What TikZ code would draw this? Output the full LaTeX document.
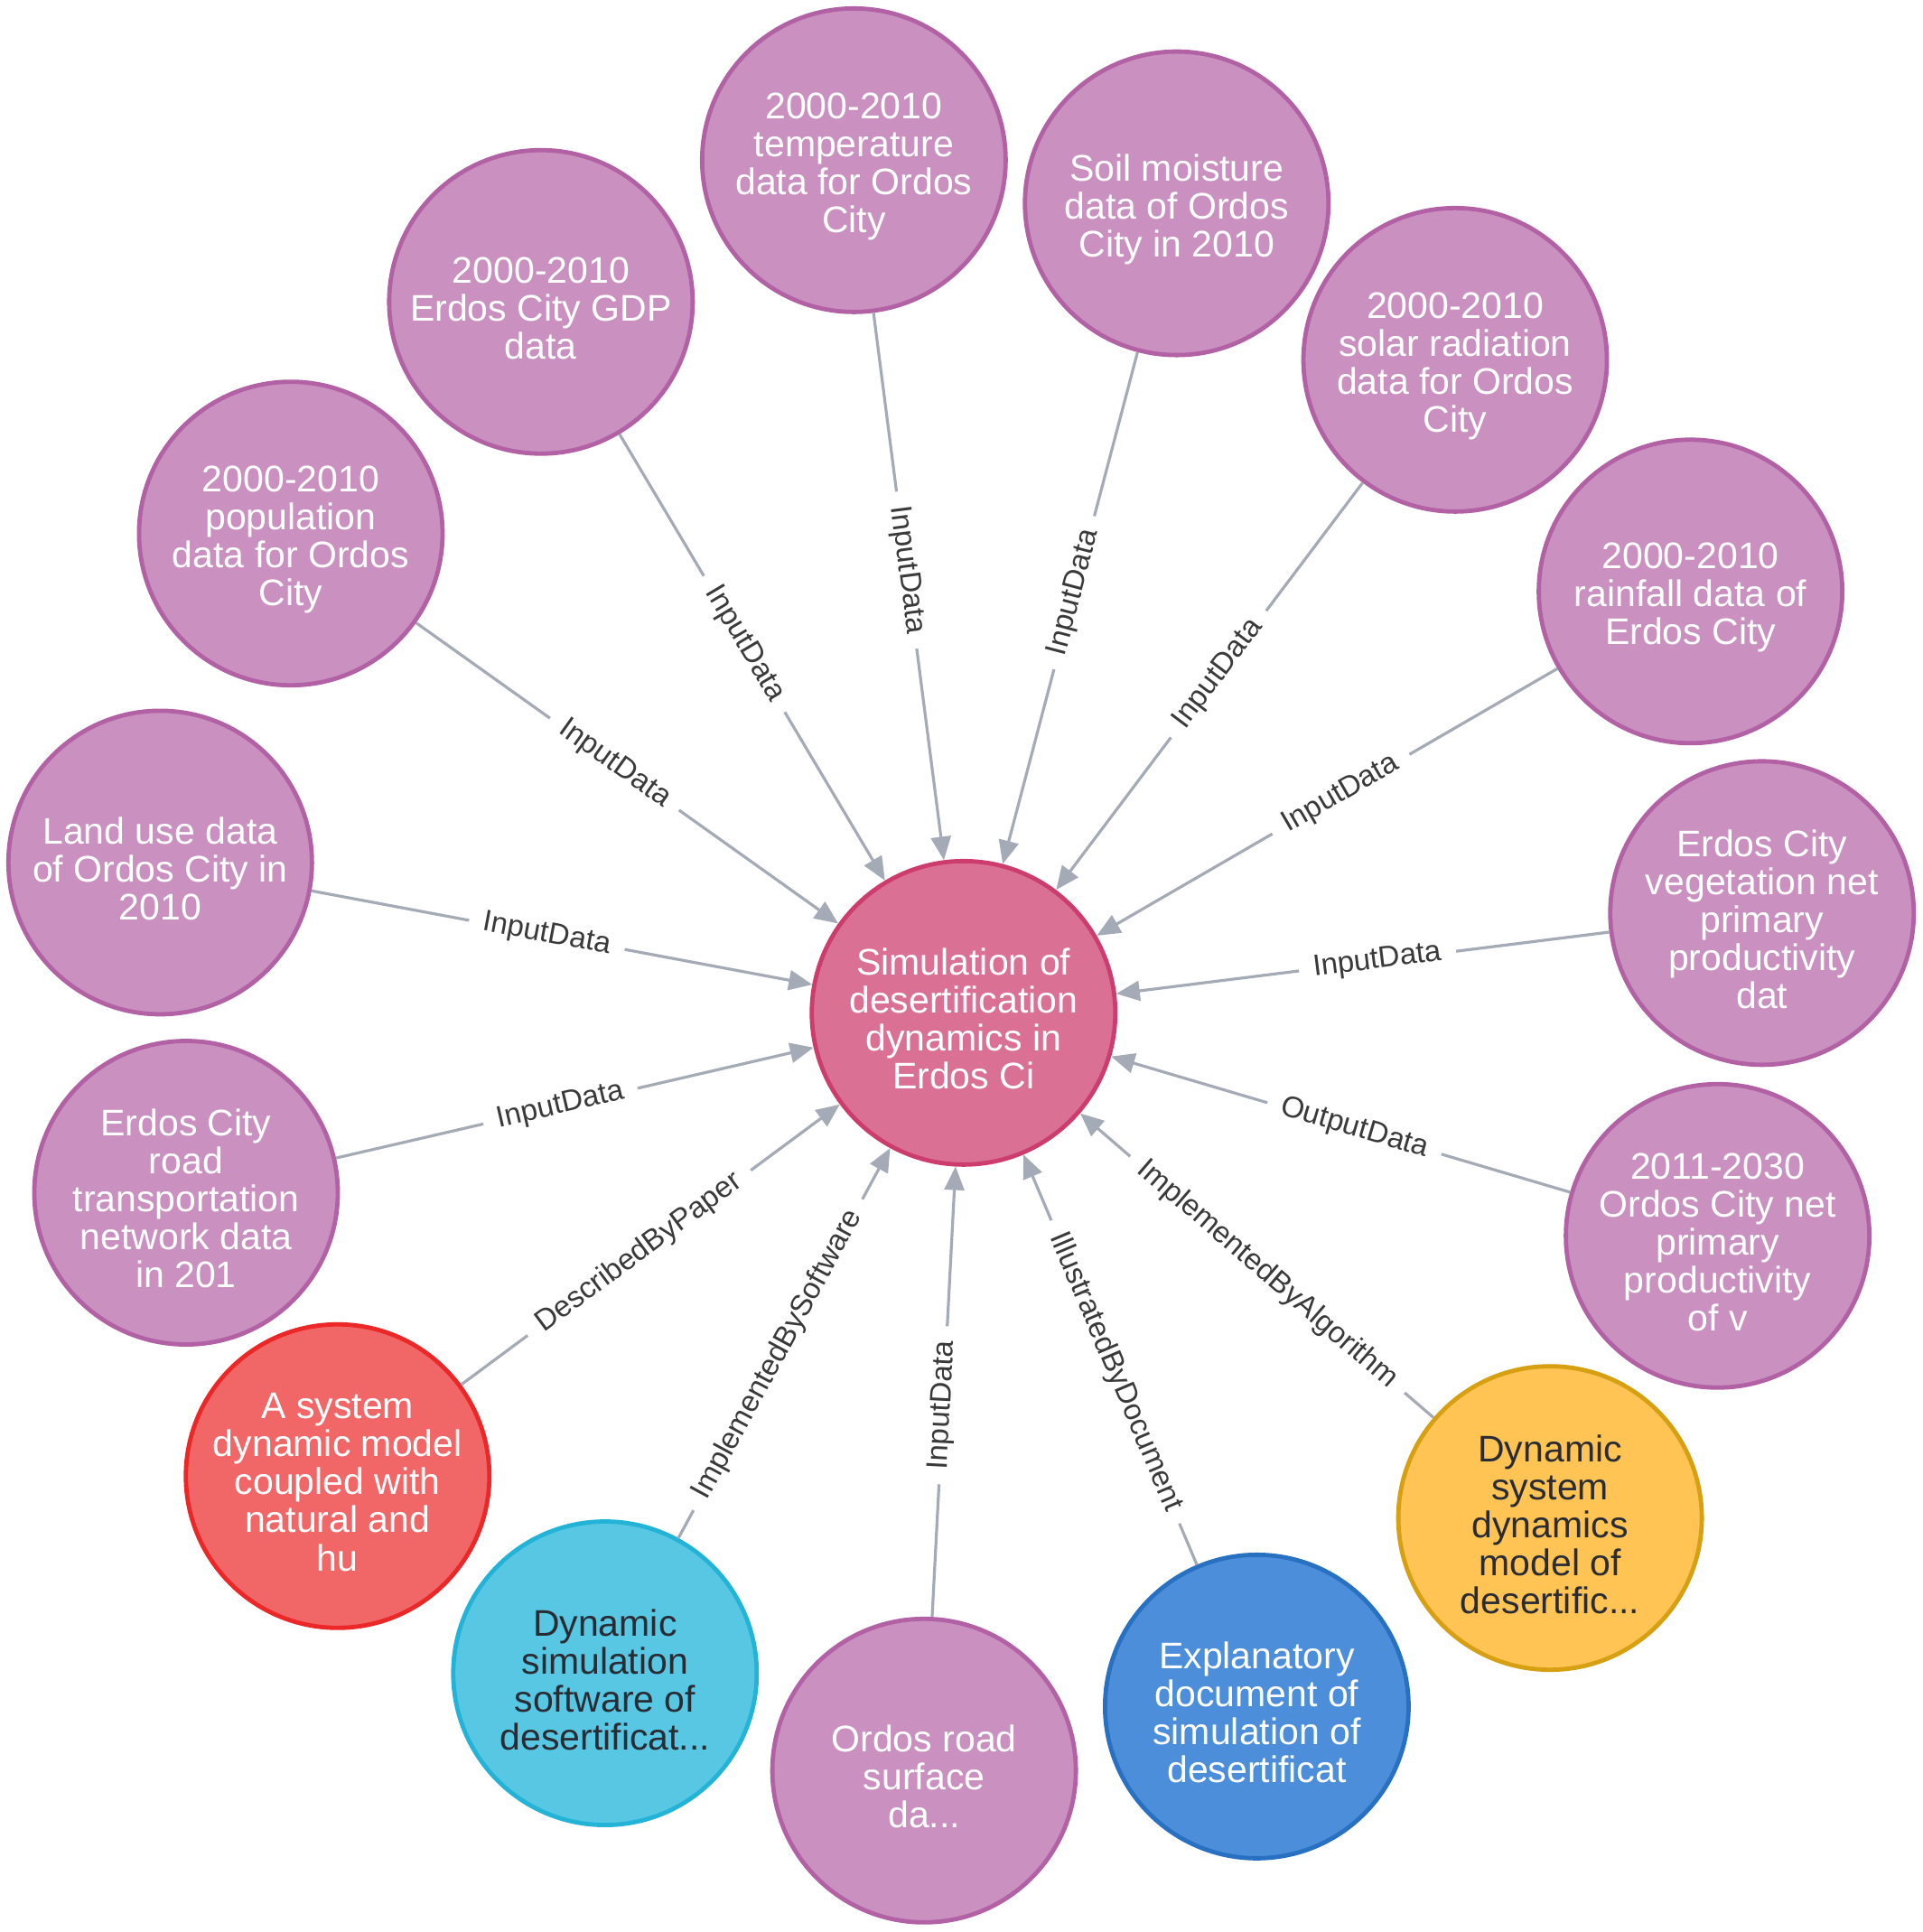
\documentclass[tikz,border=0pt]{standalone}
\usepackage{fontspec}
\setmainfont{Liberation Sans}
\usetikzlibrary{arrows.meta}
\definecolor{datafill}{HTML}{C990C0}
\definecolor{dataline}{HTML}{B261A5}
\definecolor{hubfill}{HTML}{DA7194}
\definecolor{hubline}{HTML}{CC3C6C}
\definecolor{paperfill}{HTML}{F16667}
\definecolor{paperline}{HTML}{EB2728}
\definecolor{softfill}{HTML}{57C7E3}
\definecolor{softline}{HTML}{23B3D7}
\definecolor{docfill}{HTML}{4C8EDA}
\definecolor{docline}{HTML}{2870C2}
\definecolor{algofill}{HTML}{FFC454}
\definecolor{algoline}{HTML}{D7A013}
\definecolor{relgray}{HTML}{A5ABB6}
\definecolor{labgray}{HTML}{3A3A3A}
\definecolor{darktext}{HTML}{2A2C34}
\newsavebox\entbox

\begin{document}
\begin{tikzpicture}[x=0.341pt, y=-0.341pt,
  ent/.style={circle, minimum size=84pt, inner sep=0pt, line width=1.2pt,
              align=center, font=\fontsize{10.25}{10.5}\selectfont, text=white,
              execute at begin node={\setbox\entbox\hbox\bgroup},
              execute at end node={\egroup\ht\entbox=\dimexpr\ht\entbox+3.4pt\relax
                                   \hbox to 0pt{\hss\box\entbox\hss}}},
  dnode/.style={ent, draw=dataline, fill=datafill},
  hub/.style={ent, draw=hubline, fill=hubfill},
  paper/.style={ent, draw=paperline, fill=paperfill},
  soft/.style={ent, draw=softline, fill=softfill, text=darktext},
  docu/.style={ent, draw=docline, fill=docfill},
  algo/.style={ent, draw=algoline, fill=algofill, text=darktext},
  rel/.style={-{Triangle[length=6.5pt, width=5.5pt]}, line width=0.8pt, color=relgray},
  lab/.style={sloped, pos=0.47, fill=white, text=labgray, font=\fontsize{8.25}{9}\selectfont,
              inner xsep=4pt, inner ysep=1pt},
]
  \useasboundingbox (0,0) rectangle (1560,1568);

  \node[hub] (sim) at (782,822) {Simulation of\\desertification\\dynamics in\\Erdos Ci};

  \node[dnode] (temp)  at (693,130)   {2000-2010\\temperature\\data for Ordos\\City};
  \node[dnode] (soil)  at (955,165)   {Soil moisture\\data of Ordos\\City in 2010};
  \node[dnode] (solar) at (1181,292)  {2000-2010\\solar radiation\\data for Ordos\\City};
  \node[dnode] (rain)  at (1372,480)  {2000-2010\\rainfall data of\\Erdos City};
  \node[dnode] (veg)   at (1430,741)  {Erdos City\\vegetation net\\primary\\productivity\\dat};
  \node[dnode] (npp)   at (1394,1003) {2011-2030\\Ordos City net\\primary\\productivity\\of v};
  \node[algo]  (model) at (1258,1232) {Dynamic\\system\\dynamics\\model of\\desertific...};
  \node[docu]  (expl)  at (1020,1385) {Explanatory\\document of\\simulation of\\desertificat};
  \node[dnode] (surf)  at (750,1437)  {Ordos road\\surface\\da...};
  \node[soft]  (softw) at (491,1358)  {Dynamic\\simulation\\software of\\desertificat...};
  \node[paper] (sdm)   at (274,1198)  {A system\\dynamic model\\coupled with\\natural and\\hu};
  \node[dnode] (roads) at (151,968)   {Erdos City\\road\\transportation\\network data\\in 201};
  \node[dnode] (land)  at (130,700)   {Land use data\\of Ordos City in\\2010};
  \node[dnode] (pop)   at (236,433)   {2000-2010\\population\\data for Ordos\\City};
  \node[dnode] (gdp)   at (439,245)   {2000-2010\\Erdos City GDP\\data};

  \draw[rel] (temp)  -- node[lab] {InputData} (sim);
  \draw[rel] (soil)  -- node[lab] {InputData} (sim);
  \draw[rel] (solar) -- node[lab] {InputData} (sim);
  \draw[rel] (rain)  -- node[lab] {InputData} (sim);
  \draw[rel] (veg)   -- node[lab] {InputData} (sim);
  \draw[rel] (npp)   -- node[lab] {OutputData} (sim);
  \draw[rel] (model) -- node[lab] {ImplementedByAlgorithm} (sim);
  \draw[rel] (expl)  -- node[lab] {IllustratedByDocument} (sim);
  \draw[rel] (surf)  -- node[lab] {InputData} (sim);
  \draw[rel] (softw) -- node[lab] {ImplementedBySoftware} (sim);
  \draw[rel] (sdm)   -- node[lab] {DescribedByPaper} (sim);
  \draw[rel] (roads) -- node[lab] {InputData} (sim);
  \draw[rel] (land)  -- node[lab] {InputData} (sim);
  \draw[rel] (pop)   -- node[lab] {InputData} (sim);
  \draw[rel] (gdp)   -- node[lab] {InputData} (sim);
\end{tikzpicture}
\end{document}
